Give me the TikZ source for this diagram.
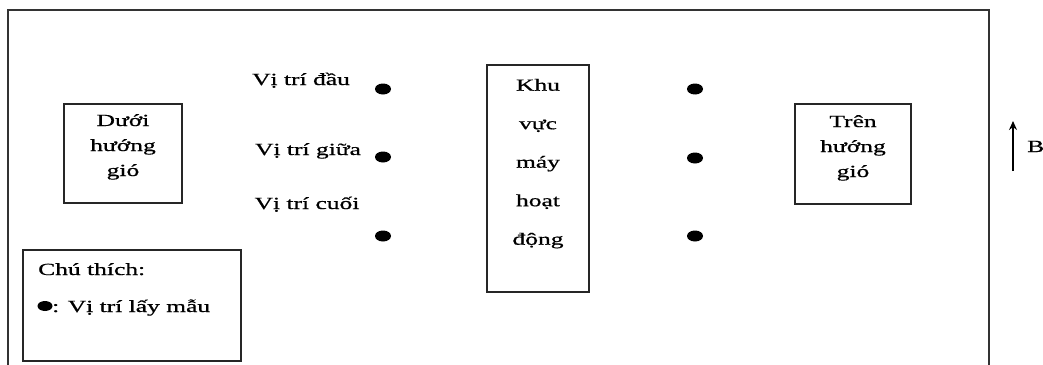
\documentclass[tikz,border=0pt]{standalone}
\usepackage{fontspec}
\usepackage{graphicx}
\setmainfont{Liberation Serif}[FakeBold=0.6]
\usetikzlibrary{shapes.geometric,arrows.meta}
% wide-set text block (lines separated by \\)
\newcommand\widetext[1]{\scalebox{1.5}[1]{\begin{tabular}{@{}c@{}}#1\end{tabular}}}
\begin{document}
\begin{tikzpicture}[x=1pt,y=-1pt,
  frame/.style={draw=black!80,line width=1.1pt},
  zone/.style={draw=black!85,line width=1.1pt,inner sep=0pt},
  lbl/.style={inner sep=0pt,font=\fontsize{17}{25}\selectfont},
  site/.style={ellipse,fill=black,inner sep=0pt,minimum width=16pt,minimum height=11pt}]
\useasboundingbox (0,0) rectangle (1043,364);
\clip (0,0) rectangle (1043,364);
\fill[white] (0,0) rectangle (1043,364);
% site boundary (runs past the lower edge)
\draw[frame] (8,10) rectangle (989,380);

% downwind zone
\node[zone,minimum width=118pt,minimum height=99pt] (down) at (123,153.5) {};
\node[lbl] (downtxt) at (123,146) {\widetext{Dưới\\hướng\\gió}};

% upwind zone
\node[zone,minimum width=116pt,minimum height=100pt] (up) at (853,154) {};
\node[lbl] (uptxt) at (853,147) {\widetext{Trên\\hướng\\gió}};

% working area of the machines
\node[zone,minimum width=102pt,minimum height=227pt] (work) at (538,178.5) {};
\node[lbl,font=\fontsize{17}{38.5}\selectfont] (worktxt) at (538,160) {\widetext{Khu\\vực\\máy\\hoạt\\động}};

% position labels
\node[lbl] (pfirst) at (301,80) {\widetext{Vị trí đầu}};
\node[lbl] (pmid) at (308,150) {\widetext{Vị trí giữa}};
\node[lbl] (plast) at (307,204) {\widetext{Vị trí cuối}};

% sampling points
\node[site] (l1) at (383,89) {};
\node[site] (l2) at (383,157) {};
\node[site] (l3) at (383,236) {};
\node[site] (r1) at (695,89) {};
\node[site] (r2) at (695,158) {};
\node[site] (r3) at (695,236) {};

% legend
\node[zone,minimum width=218pt,minimum height=111pt] (legend) at (132,305.5) {};
\node[lbl,anchor=west] (legtitle) at (38,270) {\widetext{Chú thích:}};
\node[site,minimum width=15pt,minimum height=10pt] (legdot) at (45,306) {};
\node[lbl,anchor=west] (legtxt) at (52,307) {\widetext{: Vị trí lấy mẫu}};

% north arrow
\coordinate (ntail) at (1013,171);
\coordinate (nhead) at (1013,121);
\draw[line width=1.2pt,-{Stealth[length=9pt,width=8pt]}] (ntail) -- (nhead);
\node[lbl,anchor=west] (north) at (1027,147) {\widetext{B}};
\end{tikzpicture}
\end{document}
